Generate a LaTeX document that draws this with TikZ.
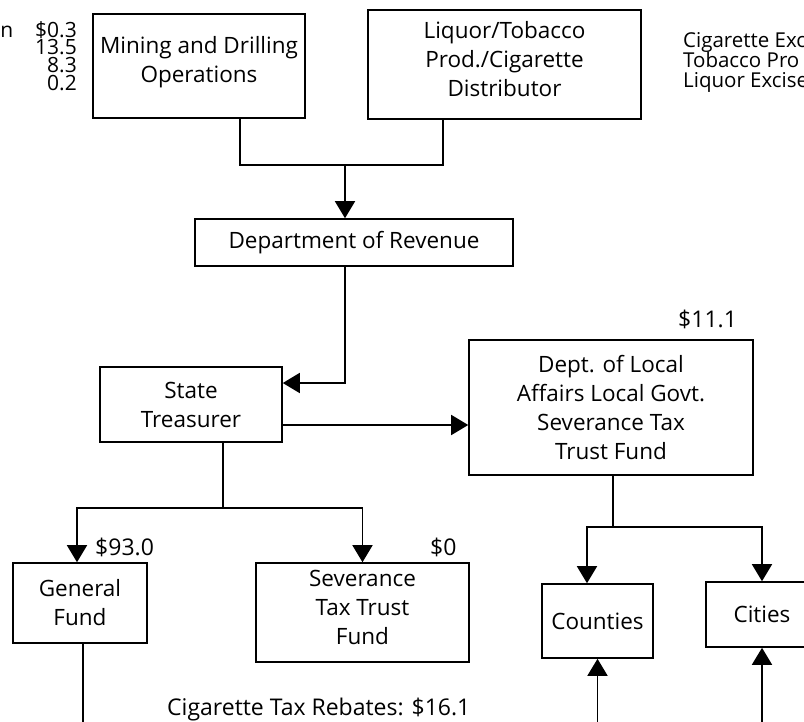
\documentclass[tikz,border=0pt]{standalone}
\usepackage{fontspec}
\setmainfont{Open Sans}
\usetikzlibrary{arrows.meta}
\begin{document}
\begin{tikzpicture}[x=1pt,y=-1pt,
  every node/.style={font=\fontsize{22.5}{29}\selectfont},
  box/.style={draw, line width=1.6pt, align=center, inner sep=0pt},
  link/.style={line width=1.6pt},
  arr/.style={line width=1.6pt, -{Triangle[length=17pt,width=20pt]}},
  lbl/.style={inner sep=0pt, font=\fontsize{23}{26}\selectfont},
  num/.style={inner sep=0pt, font=\fontsize{21}{17.7}\selectfont},
  side/.style={inner sep=0pt, anchor=base west, font=\fontsize{20.5}{20}\selectfont}]
\useasboundingbox (0,0) rectangle (804,721);
\clip (0,0) rectangle (804,721);
\fill[white] (0,0) rectangle (804,721);
% boxes
\node[box, minimum width=212pt, minimum height=104pt, text depth=13pt] (mining) at (199,66) {Mining and Drilling\\Operations};
\node[box, minimum width=273pt, minimum height=109pt, text depth=12pt] (liquor) at (504.5,64.5) {Liquor/Tobacco\\Prod./Cigarette\\Distributor};
\node[box, minimum width=318pt, minimum height=47pt] (rev) at (354,242.5) {Department of Revenue};
\node[box, minimum width=182pt, minimum height=75pt] (treas) at (191,404.5) {State\\Treasurer};
\node[box, minimum width=284pt, minimum height=135pt] (local) at (611,407.5) {Dept. of Local\\Affairs Local Govt.\\Severance Tax\\Trust Fund};
\node[box, minimum width=134pt, minimum height=80pt] (gen) at (80,603) {General\\Fund};
\node[box, minimum width=213pt, minimum height=99pt, text depth=11pt] (sev) at (362.5,612.5) {Severance\\Tax Trust\\Fund};
\node[box, minimum width=111pt, minimum height=74pt] (counties) at (597.5,621) {Counties};
\node[box, minimum width=112pt, minimum height=65pt] (cities) at (762,614.5) {Cities};
% labels
\node[num, anchor=base east] (cutn) at (13.5,37) {n};
\node[num, anchor=north east, align=right] (amts) at (77,21) {\$0.3\\13.5\\8.3\\0.2};
\node[side] (tax1) at (683,47) {Cigarette Exc};
\node[side] (tax2) at (683,67) {Tobacco Pro};
\node[side] (tax3) at (683,87) {Liquor Excise};
\node[lbl, anchor=base west] (v111) at (678,327) {\$11.1};
\node[lbl, anchor=base west] (v930) at (95,555) {\$93.0};
\node[lbl, anchor=base west] (v0) at (430,555) {\$0};
\node[lbl, anchor=base west] (rebates) at (167,715) {Cigarette Tax Rebates: \$16.1};
% connectors
\coordinate (jtop) at (345,165);
\draw[link] ([xshift=41pt]mining.south) |- (jtop) -| ([xshift=-61.5pt]liquor.south);
\draw[arr] (jtop) -- (jtop |- rev.north);
\draw[arr] ([xshift=-9pt]rev.south) |- ([yshift=21.5pt]treas.east);
\coordinate (t3) at ([yshift=-20.5pt]treas.east);
\draw[arr] (t3) -- (t3 -| local.west);
\coordinate (jt) at (223,508);
\draw[link] (jt |- treas.south) -- (jt);
\draw[arr] (jt) -| ([xshift=-3pt]gen.north);
\draw[arr] (jt) -| (sev.north);
\coordinate (gb) at (83,730);
\draw[link] ([xshift=3pt]gen.south) -- (gb);
\coordinate (jl) at (613,527);
\draw[link] (jl |- local.south) -- (jl);
\draw[arr] (jl) -| ([xshift=-10.5pt]counties.north);
\draw[arr] (jl) -| (cities.north);
\coordinate (cb) at (597.5,730);
\coordinate (ctb) at (762,730);
\draw[arr] (cb) -- (counties.south);
\draw[arr] (ctb) -- (cities.south);
\end{tikzpicture}
\end{document}
